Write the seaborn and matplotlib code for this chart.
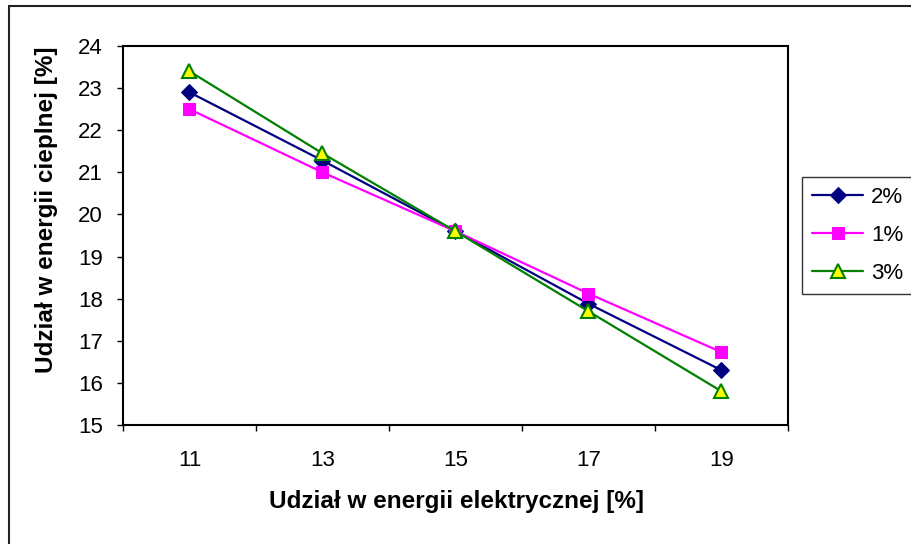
import matplotlib
matplotlib.use("Agg")
import matplotlib.pyplot as plt
import seaborn as sns
import pandas as pd
from matplotlib.lines import Line2D
from matplotlib.ticker import FixedLocator, NullFormatter

sns.set_theme(style="white")
plt.rcParams['font.family'] = ['Liberation Sans', 'DejaVu Sans']
plt.rcParams['text.color'] = 'black'
plt.rcParams['axes.labelcolor'] = 'black'
plt.rcParams['xtick.color'] = 'black'
plt.rcParams['ytick.color'] = 'black'

# data
categories = ['11', '13', '15', '17', '19']
series_names = ['2%', '1%', '3%']
val_2 = [22.9, 21.28, 19.6, 17.88, 16.3]
val_1 = [22.5, 21.0, 19.6, 18.12, 16.73]
val_3 = [23.4, 21.45, 19.6, 17.7, 15.8]

rows = []
for name, vals in zip(series_names, [val_2, val_1, val_3]):
    for i, v in enumerate(vals):
        rows.append({'pos': i, 'val': v, 'serie': name})
df = pd.DataFrame(rows)

styles = {
    '2%': dict(color='#000080', marker='D', markersize=8, markerfacecolor='#000080', markeredgecolor='#000080'),
    '1%': dict(color='#FF00FF', marker='s', markersize=8, markerfacecolor='#FF00FF', markeredgecolor='#FF00FF'),
    '3%': dict(color='#008000', marker='^', markersize=10.5, markerfacecolor='#FFFF00', markeredgecolor='#008000',
               markeredgewidth=1.5),
}

fig = plt.figure(figsize=(9.12, 5.44), dpi=100)
ax = fig.add_axes([123/912, 1 - 425/544, (788-123)/912, (425-46)/544])

for name in series_names:
    sub = df[df['serie'] == name]
    sns.lineplot(data=sub, x='pos', y='val', ax=ax, linewidth=1.6, label=name, **styles[name])

ax.set_xlim(-0.5, len(categories) - 0.5)
ax.set_ylim(15, 24)
ax.set_yticks(range(15, 25))
ax.tick_params(axis='y', direction='out', length=4.5, width=1, color='black', labelsize=16, pad=10, left=True)

# category axis: ticks between categories, labels centred
ax.xaxis.set_major_locator(FixedLocator([i - 0.5 for i in range(len(categories) + 1)]))
ax.xaxis.set_major_formatter(NullFormatter())
ax.xaxis.set_minor_locator(FixedLocator(list(range(len(categories)))))
ax.set_xticklabels(categories, minor=True)
ax.tick_params(axis='x', which='major', direction='out', length=4.5, width=1, color='black', bottom=True)
ax.tick_params(axis='x', which='minor', length=0, labelsize=16, pad=18, bottom=True)

for s in ax.spines.values():
    s.set_color('black')
    s.set_linewidth(1.5)

ax.set_xlabel('Udział w energii elektrycznej [%]', fontsize=17.5, fontweight='bold')
ax.set_ylabel('Udział w energii cieplnej [%]', fontsize=17.5, fontweight='bold')
ax.xaxis.set_label_coords(0.502, -0.172)
ax.yaxis.set_label_coords(-0.097, 0.567)

leg = ax.legend(loc='upper left', bbox_to_anchor=(802/912, 1 - 177/544), bbox_transform=fig.transFigure,
                frameon=True, fancybox=False, fontsize=16, handlelength=2.3, borderpad=0.45,
                labelspacing=0.76, handletextpad=0.35, borderaxespad=0)
leg.get_frame().set_edgecolor('black')
leg.get_frame().set_linewidth(1)

# outer chart border (left and top visible)
fig.add_artist(Line2D([9/912, 9/912], [0, 1 - 6/544], transform=fig.transFigure, color='#222222', lw=1.5))
fig.add_artist(Line2D([9/912, 1], [1 - 6/544, 1 - 6/544], transform=fig.transFigure, color='#222222', lw=1.5))

fig.savefig('out.png', dpi=100)
